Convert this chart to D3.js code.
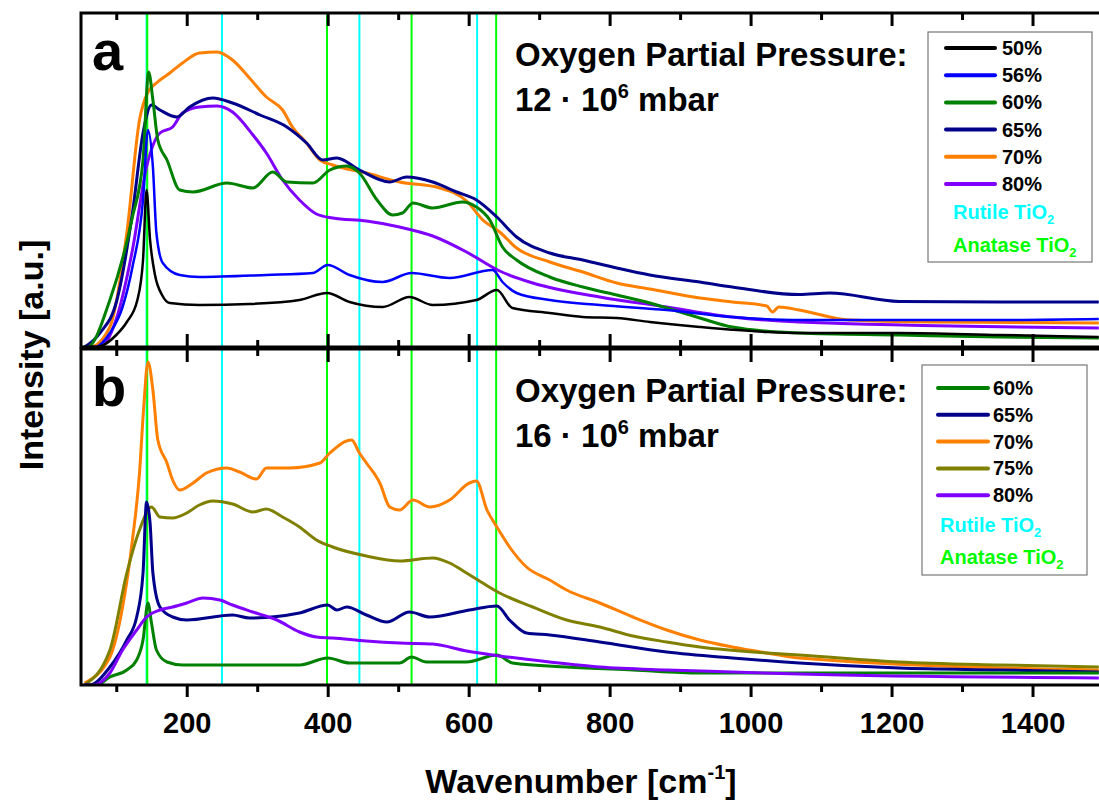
<!DOCTYPE html>
<html>
<head>
<meta charset="UTF-8">
<title>Raman spectra - oxygen partial pressure</title>
<script src="https://d3js.org/d3.v7.min.js"></script>
<style>
  body { margin: 0; background: #fff; }
  svg { display: block; font-family: "Liberation Sans", Arial, sans-serif; font-weight: bold; }
</style>
</head>
<body>
<div id="chart"></div>
<script>
// x axis ticks (wavenumber, cm-1)
const majorTicks = [200, 400, 600, 800, 1000, 1200, 1400];
const minorTicks = [100, 300, 500, 700, 900, 1100, 1300, 1500];

// reference Raman positions
const rutile = [143, 250, 445, 612];
const anatase = [144, 399, 519, 639];

// panel a: 12e6 mbar  [wavenumber, intensity]
const a50 = [[55,0],[72,0],[100,60],[115,125],[130,235],[138,435],[143,785],[148,535],[155,360],[165,260],[176,220],[218,210],[289,215],[360,235],[399,270],[431,225],[478,200],[516,250],[549,210],[611,235],[640,285],[662,195],[715,170],[762,150],[810,145],[857,125],[928,100],[1023,75],[1069,70],[1211,70],[1353,60],[1494,50]];
const a56 = [[55,0],[70,0],[91,70],[109,200],[123,400],[138,735],[145,1085],[152,900],[157,570],[166,420],[190,360],[218,350],[313,360],[379,370],[400,410],[431,360],[478,325],[519,370],[573,345],[634,385],[648,325],[668,270],[715,235],[786,210],[881,185],[974,150],[1069,135],[1211,135],[1353,135],[1494,140]];
const a60 = [[55,0],[59,0],[91,235],[123,650],[138,935],[146,1375],[152,1235],[159,1035],[172,935],[190,785],[209,775],[257,820],[294,795],[322,875],[342,825],[379,820],[403,885],[427,905],[445,870],[470,735],[492,660],[506,670],[521,720],[549,695],[591,725],[611,700],[630,635],[648,500],[668,435],[715,350],[762,300],[810,260],[857,220],[928,145],[974,100],[1069,70],[1211,60],[1353,50],[1494,45]];
const a65 = [[55,0],[77,70],[101,235],[123,670],[138,1070],[150,1210],[162,1185],[186,1150],[204,1200],[237,1245],[265,1220],[304,1160],[342,1100],[370,1020],[393,935],[413,945],[445,885],[488,825],[512,850],[549,825],[583,775],[611,735],[640,650],[668,550],[715,470],[762,435],[810,395],[857,360],[928,325],[974,300],[1069,262],[1112,270],[1211,228],[1353,225],[1494,225]];
const a70 = [[55,0],[63,0],[91,100],[115,570],[133,1135],[145,1275],[157,1320],[176,1370],[194,1420],[218,1470],[243,1475],[265,1435],[289,1345],[313,1250],[336,1185],[350,1100],[370,1020],[389,935],[407,910],[455,870],[502,825],[559,795],[597,730],[620,635],[644,575],[668,495],[715,425],[762,375],[810,320],[857,290],[928,245],[974,225],[1023,205],[1031,175],[1040,200],[1069,185],[1140,135],[1258,125],[1494,120]];
const a80 = [[55,0],[77,0],[101,150],[123,485],[143,900],[162,1070],[180,1100],[194,1170],[218,1200],[243,1205],[265,1175],[294,1060],[313,970],[336,835],[360,735],[384,665],[407,645],[455,630],[502,600],[549,555],[597,475],[644,380],[691,320],[786,250],[881,200],[974,150],[1069,125],[1494,95]];

// panel b: 16e6 mbar
const b60 = [[55,0],[72,0],[91,40],[115,75],[129,125],[138,225],[145,410],[150,310],[157,175],[172,115],[194,100],[265,100],[360,100],[400,135],[431,110],[502,110],[519,140],[540,115],[597,115],[640,150],[662,110],[739,90],[833,75],[928,60],[1069,60],[1494,60]];
const b65 = [[55,0],[62,0],[91,90],[115,225],[129,340],[138,560],[143,915],[148,810],[152,560],[162,390],[180,340],[200,325],[265,350],[289,335],[360,360],[400,400],[413,375],[427,390],[455,350],[484,315],[516,365],[545,340],[601,375],[640,395],[658,325],[682,260],[715,250],[786,215],[881,165],[974,135],[1069,110],[1211,85],[1353,75],[1494,65]];
const b70 = [[55,10],[91,140],[109,390],[123,725],[133,1060],[139,1390],[145,1615],[152,1475],[159,1225],[172,1110],[180,1025],[190,975],[209,1010],[228,1060],[257,1085],[275,1065],[299,1030],[313,1085],[346,1085],[389,1110],[403,1160],[434,1225],[445,1160],[455,1110],[474,1010],[488,890],[502,875],[521,925],[545,890],[573,925],[601,1010],[611,1020],[626,875],[640,790],[658,690],[682,590],[715,525],[739,475],[786,410],[833,340],[881,275],[928,225],[974,190],[1023,160],[1069,135],[1494,75]];
const b75 = [[55,0],[91,175],[115,560],[133,775],[150,890],[162,840],[180,835],[200,860],[218,900],[237,920],[265,905],[294,865],[313,880],[336,840],[360,790],[384,725],[407,690],[455,645],[502,620],[549,635],[573,610],[597,560],[620,510],[644,460],[691,390],[739,325],[786,290],[833,245],[881,215],[928,190],[1023,160],[1069,150],[1211,115],[1353,100],[1494,90]];
const b80 = [[55,0],[67,0],[91,60],[109,175],[129,275],[143,340],[162,375],[180,390],[200,410],[223,435],[247,425],[265,400],[294,365],[328,325],[360,265],[384,240],[407,235],[455,220],[502,210],[549,205],[597,170],[644,145],[715,115],[786,90],[881,75],[974,65],[1069,55],[1494,35]];

const labelsA = ["50%", "56%", "60%", "65%", "70%", "80%"];
const colorsA = ["#000000", "#0000ff", "#008000", "#00008b", "#ff8000", "#8000ff"];
const dataA = [a50, a56, a60, a65, a70, a80];
const widthsA = [2.5, 2.5, 3, 3, 3, 3];
const orderA = [5, 4, 3, 2, 1, 0];

const labelsB = ["60%", "65%", "70%", "75%", "80%"];
const colorsB = ["#008000", "#00008b", "#ff8000", "#808000", "#8000ff"];
const dataB = [b60, b65, b70, b75, b80];
const orderB = [2, 3, 1, 0, 4];

const W = 1099, H = 803;
const svg = d3.select("#chart").append("svg").attr("width", W).attr("height", H);

const x = d3.scaleLinear().domain([50, 1500]).range([81, 1103]);

const panels = [
  {top: 13, bottom: 347, ymax: 1670, letter: "a", p: "12", labels: labelsA, colors: colorsA, data: dataA, order: orderA, widths: widthsA,
   legend: {x: 928, y: 32, w: 164, h: 230, ly: 48, dy: 27.2, lx1: 946, lx2: 995, tx: 1002, rx: 953, ry: 219, ay: 252}},
  {top: 349, bottom: 685, ymax: 1680, letter: "b", p: "16", labels: labelsB, colors: colorsB, data: dataB, order: orderB, widths: [3,3,3,3,3],
   legend: {x: 922, y: 365, w: 165, h: 210, ly: 388, dy: 26.8, lx1: 938, lx2: 988, tx: 993, rx: 940, ry: 532, ay: 564}}
];

panels.forEach((P, k) => {
  const y = d3.scaleLinear().domain([0, P.ymax]).range([P.bottom, P.top]);
  const g = svg.append("g");
  const clipId = "clip" + k;
  svg.append("clipPath").attr("id", clipId).append("rect")
    .attr("x", x.range()[0]).attr("y", P.top).attr("width", x.range()[1] - x.range()[0]).attr("height", P.bottom - P.top);

  // reference lines
  const ref = g.append("g").attr("clip-path", `url(#${clipId})`);
  ref.selectAll(".rut").data(rutile).join("line")
    .attr("x1", d => x(d)).attr("x2", d => x(d))
    .attr("y1", P.top).attr("y2", P.bottom)
    .attr("stroke", "#00ffff").attr("stroke-width", 2);
  ref.selectAll(".ana").data(anatase).join("line")
    .attr("x1", d => x(d)).attr("x2", d => x(d))
    .attr("y1", P.top).attr("y2", P.bottom)
    .attr("stroke", "#00ff00").attr("stroke-width", 2);

  // spectra
  const line = d3.line().x(d => x(d[0])).y(d => y(d[1])).curve(d3.curveMonotoneX);
  const lines = g.append("g").attr("clip-path", `url(#${clipId})`);
  P.order.forEach(i => {
    lines.append("path").datum(P.data[i])
      .attr("d", line)
      .attr("fill", "none")
      .attr("stroke", P.colors[i])
      .attr("stroke-width", P.widths[i])
      .attr("stroke-linejoin", "round");
  });

  // frame
  g.append("rect")
    .attr("x", x.range()[0]).attr("y", P.top)
    .attr("width", x.range()[1] - x.range()[0]).attr("height", P.bottom - P.top)
    .attr("fill", "none").attr("stroke", "#000").attr("stroke-width", 3);

  // inward ticks on top edge
  const topMaj = g.append("g").attr("transform", `translate(0,${P.top})`)
    .call(d3.axisBottom(x).tickValues(majorTicks).tickSize(13).tickFormat(""));
  const topMin = g.append("g").attr("transform", `translate(0,${P.top})`)
    .call(d3.axisBottom(x).tickValues(minorTicks).tickSize(7).tickFormat(""));
  [topMaj, topMin].forEach(a => {
    a.select(".domain").remove();
    a.selectAll(".tick line").attr("stroke-width", 3);
  });

  if (k === 0) {
    // inward ticks on the bottom of panel a
    const bMaj = g.append("g").attr("transform", `translate(0,${P.bottom})`)
      .call(d3.axisTop(x).tickValues(majorTicks).tickSize(13).tickFormat(""));
    const bMin = g.append("g").attr("transform", `translate(0,${P.bottom})`)
      .call(d3.axisTop(x).tickValues(minorTicks).tickSize(7).tickFormat(""));
    [bMaj, bMin].forEach(a => {
      a.select(".domain").remove();
      a.selectAll(".tick line").attr("stroke-width", 3);
    });
  } else {
    // outward ticks with labels at the bottom
    const bMaj = g.append("g").attr("transform", `translate(0,${P.bottom})`)
      .call(d3.axisBottom(x).tickValues(majorTicks).tickSize(12).tickPadding(15).tickFormat(d3.format("d")));
    const bMin = g.append("g").attr("transform", `translate(0,${P.bottom})`)
      .call(d3.axisBottom(x).tickValues(minorTicks).tickSize(7).tickFormat(""));
    [bMaj, bMin].forEach(a => {
      a.select(".domain").remove();
      a.selectAll(".tick line").attr("stroke-width", 3);
    });
    bMaj.selectAll(".tick text")
      .attr("font-family", "Liberation Sans, Arial, sans-serif")
      .attr("font-weight", "bold").attr("font-size", 29).attr("fill", "#000");
  }

  // panel letter
  g.append("text").attr("x", 92).attr("y", P.top + 57)
    .attr("font-size", 56).text(P.letter);

  // pressure annotation
  g.append("text").attr("x", 515).attr("y", P.top + 53)
    .attr("font-size", 33).text("Oxygen Partial Pressure:");
  const t2 = g.append("text").attr("x", 515).attr("y", P.top + 98).attr("font-size", 33);
  t2.append("tspan").text(P.p + " \u00b7 10");
  t2.append("tspan").attr("font-size", 20).attr("dy", -13).text("6");
  t2.append("tspan").attr("dy", 13).text(" mbar");

  // legend
  const L = P.legend;
  const lg = g.append("g");
  lg.append("rect").attr("x", L.x).attr("y", L.y).attr("width", L.w).attr("height", L.h)
    .attr("fill", "#fff").attr("stroke", "#777").attr("stroke-width", 1.2);
  P.labels.forEach((lab, i) => {
    const yy = L.ly + i * L.dy;
    lg.append("line").attr("x1", L.lx1).attr("x2", L.lx2).attr("y1", yy).attr("y2", yy)
      .attr("stroke", P.colors[i]).attr("stroke-width", 4).attr("stroke-linecap", "round");
    lg.append("text").attr("x", L.tx).attr("y", yy + 7).attr("font-size", 20).text(lab);
  });
  [["Rutile TiO", "#00ffff", L.ry], ["Anatase TiO", "#00ff00", L.ay]].forEach(([txt, c, yy]) => {
    const t = lg.append("text").attr("x", L.rx).attr("y", yy).attr("font-size", 20).attr("fill", c);
    t.append("tspan").text(txt);
    t.append("tspan").attr("font-size", 13).attr("dy", 5).text("2");
  });
});

// axis titles
const xt = svg.append("text").attr("x", 581).attr("y", 793).attr("text-anchor", "middle").attr("font-size", 34);
xt.append("tspan").text("Wavenumber [cm");
xt.append("tspan").attr("font-size", 20).attr("dy", -14).text("-1");
xt.append("tspan").attr("dy", 14).text("]");

svg.append("text").attr("transform", "translate(43,355) rotate(-90)")
  .attr("text-anchor", "middle").attr("font-size", 34).text("Intensity [a.u.]");
</script>
</body>
</html>
